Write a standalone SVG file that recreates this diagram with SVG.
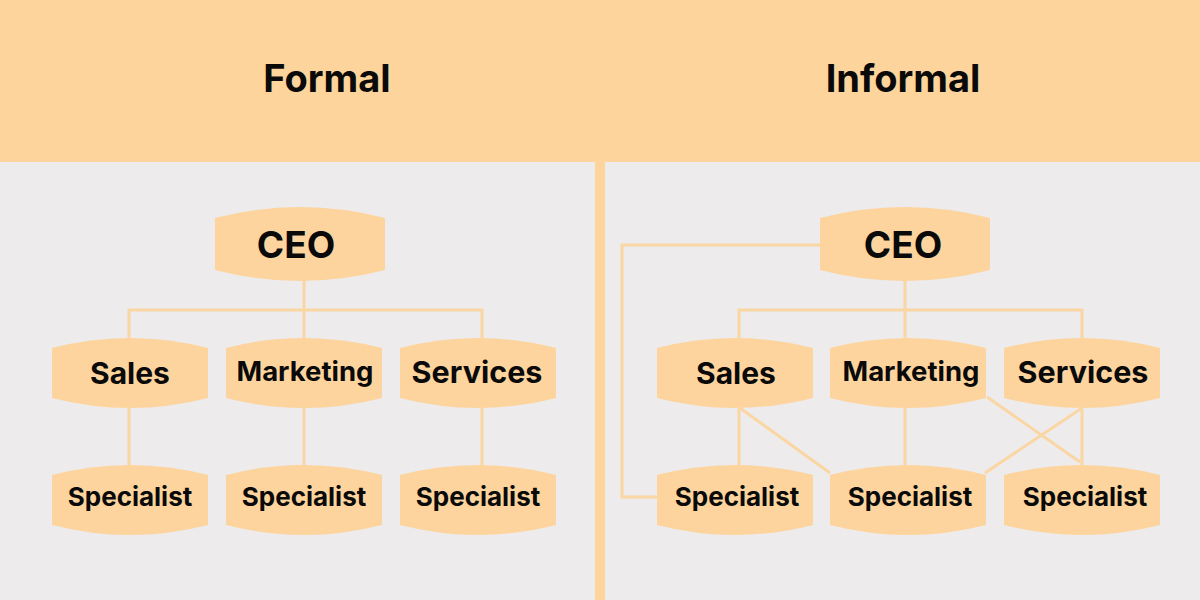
<svg xmlns="http://www.w3.org/2000/svg" width="1200" height="600" viewBox="0 0 1200 600">
<style>
.t{font-family:Inter,"Liberation Sans",sans-serif;font-weight:700;fill:#0a0a0a;text-anchor:middle;dominant-baseline:central}
.conn{stroke:#FAD6A3;stroke-width:3;fill:none}
</style>
<defs>
<path id="big" fill="#FDD49D" d="M0 11 Q85 -11 170 11 L170 63 Q85 85 0 63 Z"/>
<path id="sm" fill="#FDD49D" d="M0 10 Q78 -10 156 10 L156 60 Q78 80 0 60 Z"/>
</defs>
<rect x="0" y="0" width="1200" height="600" fill="#FDD49B"/>
<rect x="0" y="162" width="595" height="438" fill="#EDEBEC"/>
<rect x="605" y="162" width="595" height="438" fill="#EDEBEC"/>
<text class="t" x="327" y="78" font-size="38">Formal</text>
<text class="t" x="903" y="78" font-size="38">Informal</text>
<g id="connectors">
<path class="conn" d="M304 280 V310 M129 338 V310 H482 V338 M304 310 V338 M129 408 V466 M304 405 V466 M482 405 V466"/>
<path class="conn" d="M820 245 H622 V497 H657 M905 280 V310 M739 338 V310 H1082 V338 M905 310 V338 M739 408 V466 M905 405 V466 M1082 405 V466 M740 408 L830 473 M987 397 L1080 462 M1082 408 L985 473"/>
</g>
<g id="ceo-formal"><use href="#big" x="215" y="207"/><text class="t" x="296" y="244" font-size="37">CEO</text></g>
<g id="sales-formal"><use href="#sm" x="52" y="338"/><text class="t" x="130" y="373" font-size="30">Sales</text></g>
<g id="marketing-formal"><use href="#sm" x="226" y="338"/><text class="t" x="305" y="371" font-size="27.5">Marketing</text></g>
<g id="services-formal"><use href="#sm" x="400" y="338"/><text class="t" x="477" y="371" font-size="30.5">Services</text></g>
<g id="spec1-formal"><use href="#sm" x="52" y="465"/><text class="t" x="130" y="496" font-size="26">Specialist</text></g>
<g id="spec2-formal"><use href="#sm" x="226" y="465"/><text class="t" x="304" y="496" font-size="26">Specialist</text></g>
<g id="spec3-formal"><use href="#sm" x="400" y="465"/><text class="t" x="478" y="496" font-size="26">Specialist</text></g>
<g id="ceo-informal"><use href="#big" x="820" y="207"/><text class="t" x="903" y="244" font-size="37">CEO</text></g>
<g id="sales-informal"><use href="#sm" x="657" y="338"/><text class="t" x="736" y="373" font-size="30">Sales</text></g>
<g id="marketing-informal"><use href="#sm" x="830" y="338"/><text class="t" x="911" y="371" font-size="27.5">Marketing</text></g>
<g id="services-informal"><use href="#sm" x="1004" y="338"/><text class="t" x="1083" y="371" font-size="30.5">Services</text></g>
<g id="spec1-informal"><use href="#sm" x="657" y="465"/><text class="t" x="737" y="496" font-size="26">Specialist</text></g>
<g id="spec2-informal"><use href="#sm" x="830" y="465"/><text class="t" x="910" y="496" font-size="26">Specialist</text></g>
<g id="spec3-informal"><use href="#sm" x="1004" y="465"/><text class="t" x="1085" y="496" font-size="26">Specialist</text></g>
</svg>
